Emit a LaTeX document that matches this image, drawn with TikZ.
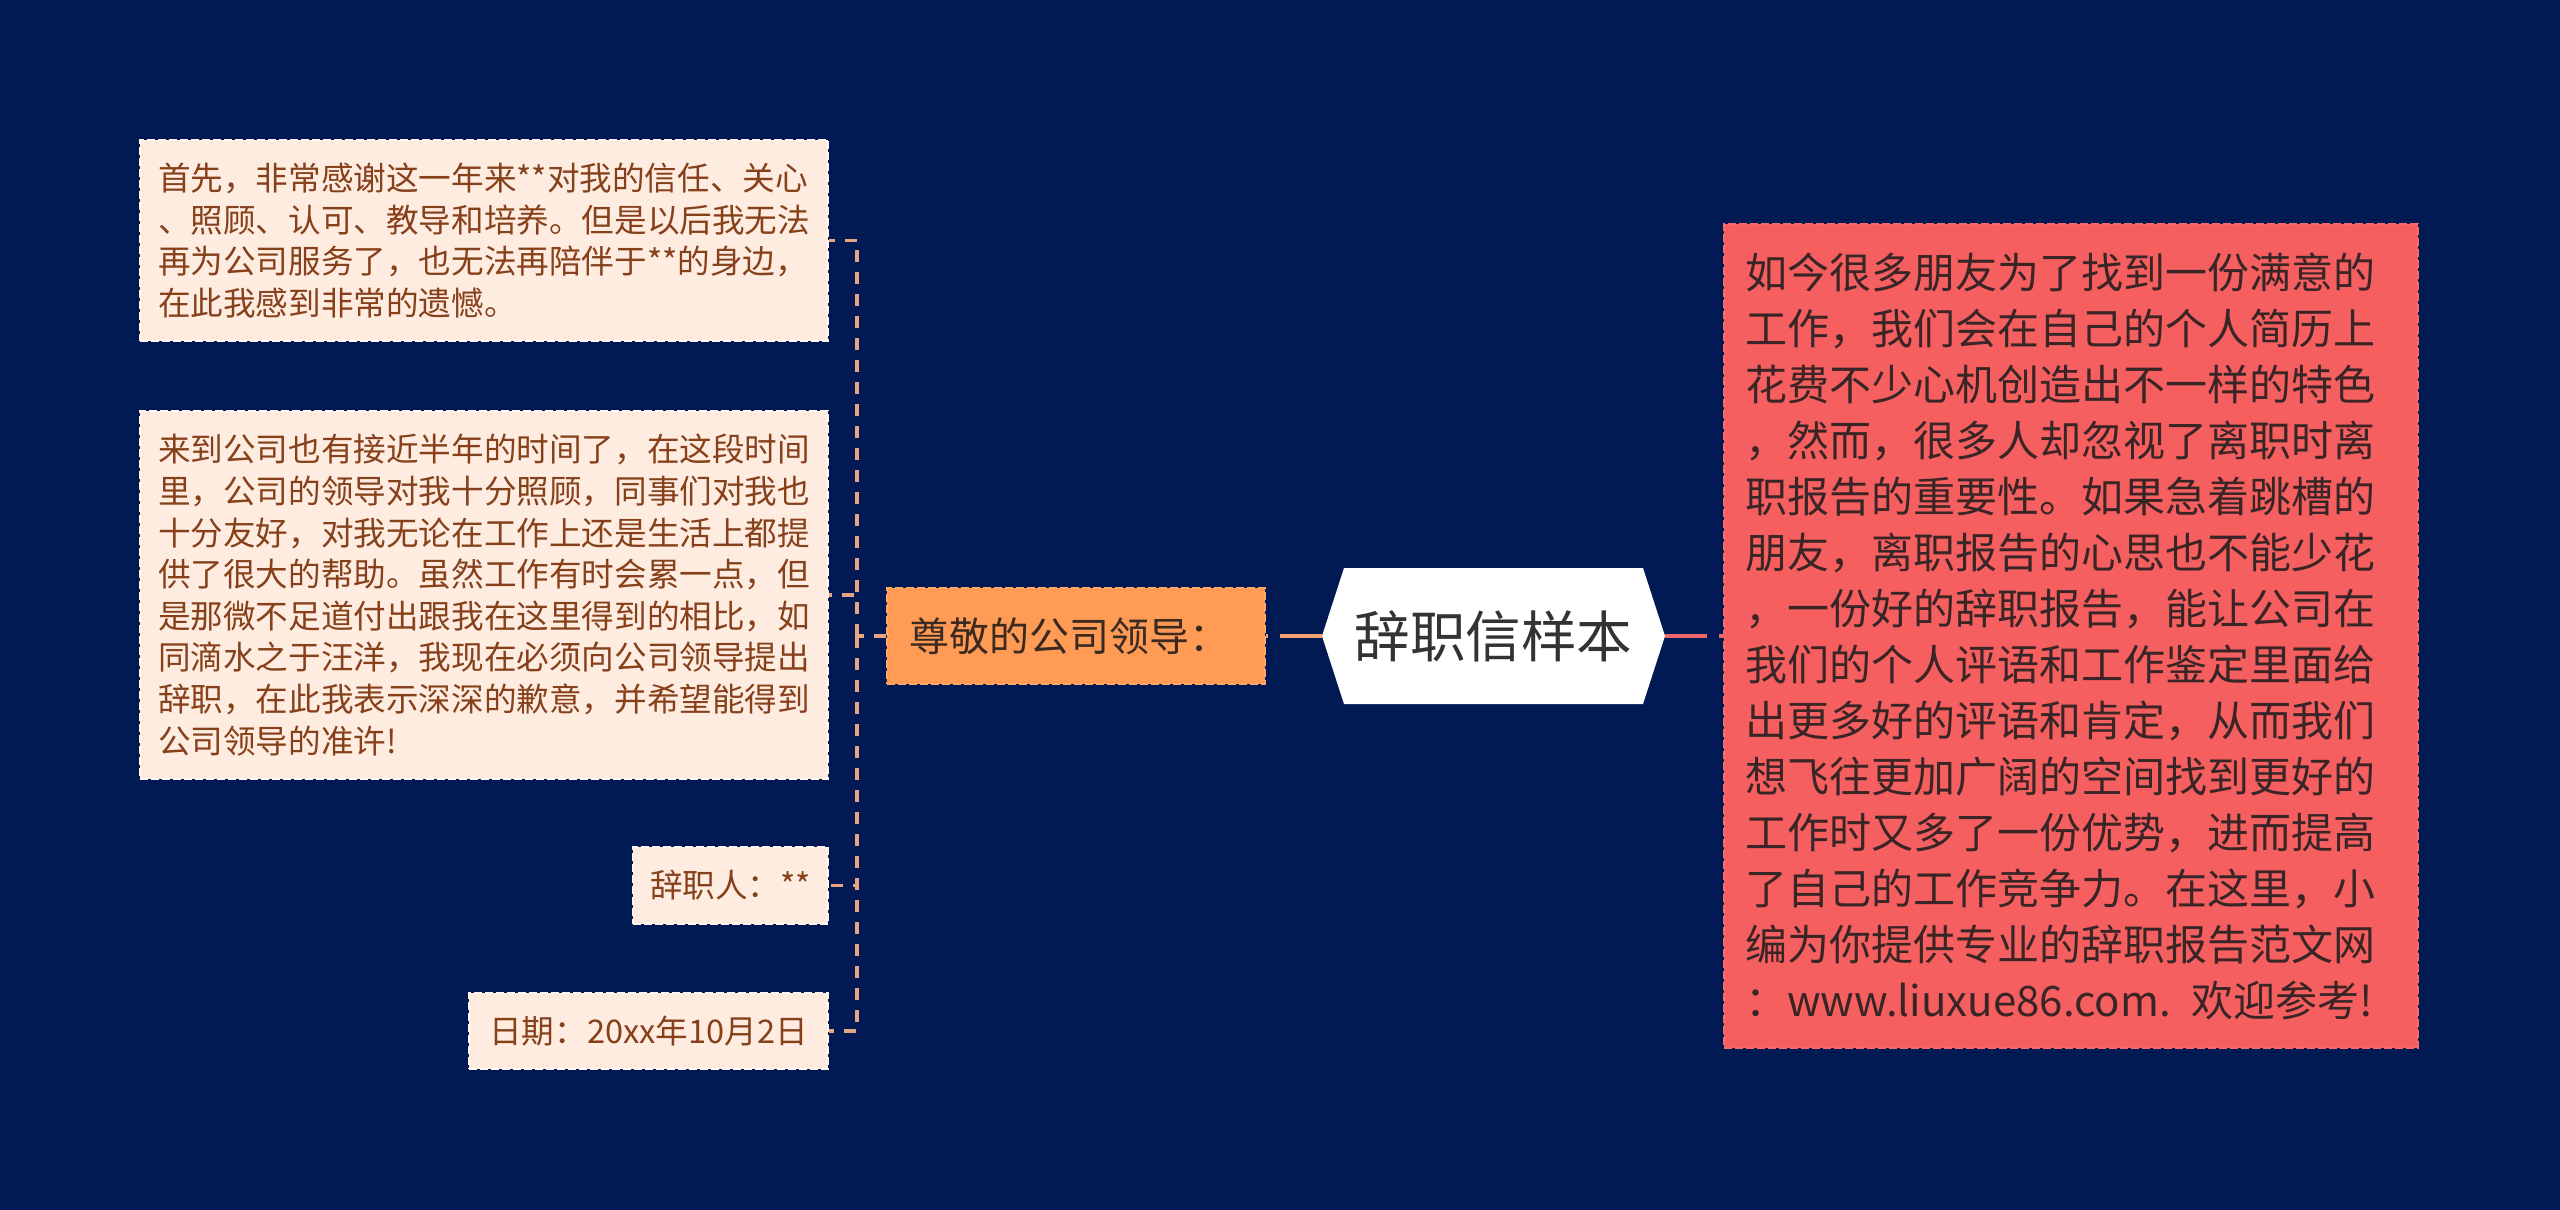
\documentclass[tikz,border=0pt]{standalone}
\usepackage{fontspec}
\setmainfont{Noto Sans CJK SC}
\definecolor{bg}{HTML}{011A53}
\definecolor{lightfill}{HTML}{FFECE1}
\definecolor{lightborder}{HTML}{FFF4EE}
\definecolor{browntext}{HTML}{86401A}
\definecolor{orangefill}{HTML}{FF9B55}
\definecolor{orangeborder}{HTML}{FFA566}
\definecolor{orangetext}{HTML}{3A2A20}
\definecolor{redfill}{HTML}{F65F60}
\definecolor{redborder}{HTML}{F86A6B}
\definecolor{redtext}{HTML}{3A2526}
\definecolor{lconncol}{HTML}{E9A582}
\definecolor{hconncol}{HTML}{F2A06E}
\definecolor{rconncol}{HTML}{EF676B}
\definecolor{hubtext}{HTML}{333333}
\begin{document}
\begin{tikzpicture}[x=0.5pt,y=-0.5pt,
  lightbox/.style={fill=lightfill, draw=lightborder, line width=1pt, dash pattern=on 4pt off 1.5pt,
    text=browntext, font=\fontsize{16.3pt}{20.8pt}\selectfont, align=left, inner sep=0pt},
  leadbox/.style={fill=orangefill, draw=orangeborder, line width=1pt, dash pattern=on 4pt off 1.5pt,
    text=orangetext, font=\fontsize{20pt}{24pt}\selectfont, align=left, inner ysep=0pt},
  redbox/.style={fill=redfill, draw=redborder, line width=1pt, dash pattern=on 4pt off 1.5pt,
    text=redtext, font=\fontsize{21pt}{28pt}\selectfont, align=left, inner ysep=0pt},
  lconn/.style={draw=lconncol, line width=1.6pt, dash pattern=on 6pt off 5pt},
  hconn/.style={draw=hconncol, line width=1.8pt, dash pattern=on 21pt off 6pt},
  rconn/.style={draw=rconncol, line width=1.8pt, dash pattern=on 21pt off 6pt},
]
\useasboundingbox[fill=bg] (0,0) rectangle (2560,1210);

% central hexagon
\node[inner sep=0pt, minimum width=171.5pt, minimum height=68pt, text=hubtext,
  font=\fontsize{27.8pt}{32pt}\selectfont,
  path picture={\fill[white] (path picture bounding box.west)
     -- ([xshift=11pt]path picture bounding box.north west)
     -- ([xshift=-11pt]path picture bounding box.north east)
     -- (path picture bounding box.east)
     -- ([xshift=-11pt]path picture bounding box.south east)
     -- ([xshift=11pt]path picture bounding box.south west) -- cycle;}]
  (hub) at (1493.5,636) {辞职信样本};

% lead node
\node[leadbox, inner xsep=11pt, text width=167pt, minimum height=48pt] (lead) at (1076,636) {尊敬的公司领导：};

% left boxes
\node[lightbox, minimum width=344pt, minimum height=100.5pt] (b1) at (484,240.5) {首先，非常感谢这一年来**对我的信任、关心\\、照顾、认可、教导和培养。但是以后我无法\\再为公司服务了，也无法再陪伴于**的身边，\\在此我感到非常的遗憾。};

\node[lightbox, minimum width=344pt, minimum height=184pt] (b2) at (484,595) {来到公司也有接近半年的时间了，在这段时间\\里，公司的领导对我十分照顾，同事们对我也\\十分友好，对我无论在工作上还是生活上都提\\供了很大的帮助。虽然工作有时会累一点，但\\是那微不足道付出跟我在这里得到的相比，如\\同滴水之于汪洋，我现在必须向公司领导提出\\辞职，在此我表示深深的歉意，并希望能得到\\公司领导的准许!};

\node[lightbox, minimum width=97.5pt, minimum height=38.5pt] (b3) at (730.5,885.5) {辞职人：**};

\node[lightbox, minimum width=179.5pt, minimum height=38pt] (b4) at (648.5,1031) {日期：20xx年10月2日};

% right box
\node[redbox, inner xsep=10.5pt, text width=326pt, minimum height=412pt] (red) at (2071,636) {如今很多朋友为了找到一份满意的\\工作，我们会在自己的个人简历上\\花费不少心机创造出不一样的特色\\，然而，很多人却忽视了离职时离\\职报告的重要性。如果急着跳槽的\\朋友，离职报告的心思也不能少花\\，一份好的辞职报告，能让公司在\\我们的个人评语和工作鉴定里面给\\出更多好的评语和肯定，从而我们\\想飞往更加广阔的空间找到更好的\\工作时又多了一份优势，进而提高\\了自己的工作竞争力。在这里，小\\编为你提供专业的辞职报告范文网\\：www.liuxue86.com. 欢迎参考!};

% connectors
\coordinate (bus) at (857,636);
\draw[hconn] (hub.west) -- (lead.east);
\draw[lconn] (lead.west) -- (bus);
\draw[lconn] (bus) |- (b1.east);
\draw[lconn] (bus) |- (b2.east);
\draw[lconn] (bus) |- (b3.east);
\draw[lconn] (bus) |- (b4.east);
\draw[rconn] (hub.east) -- (red.west);
\end{tikzpicture}
\end{document}
